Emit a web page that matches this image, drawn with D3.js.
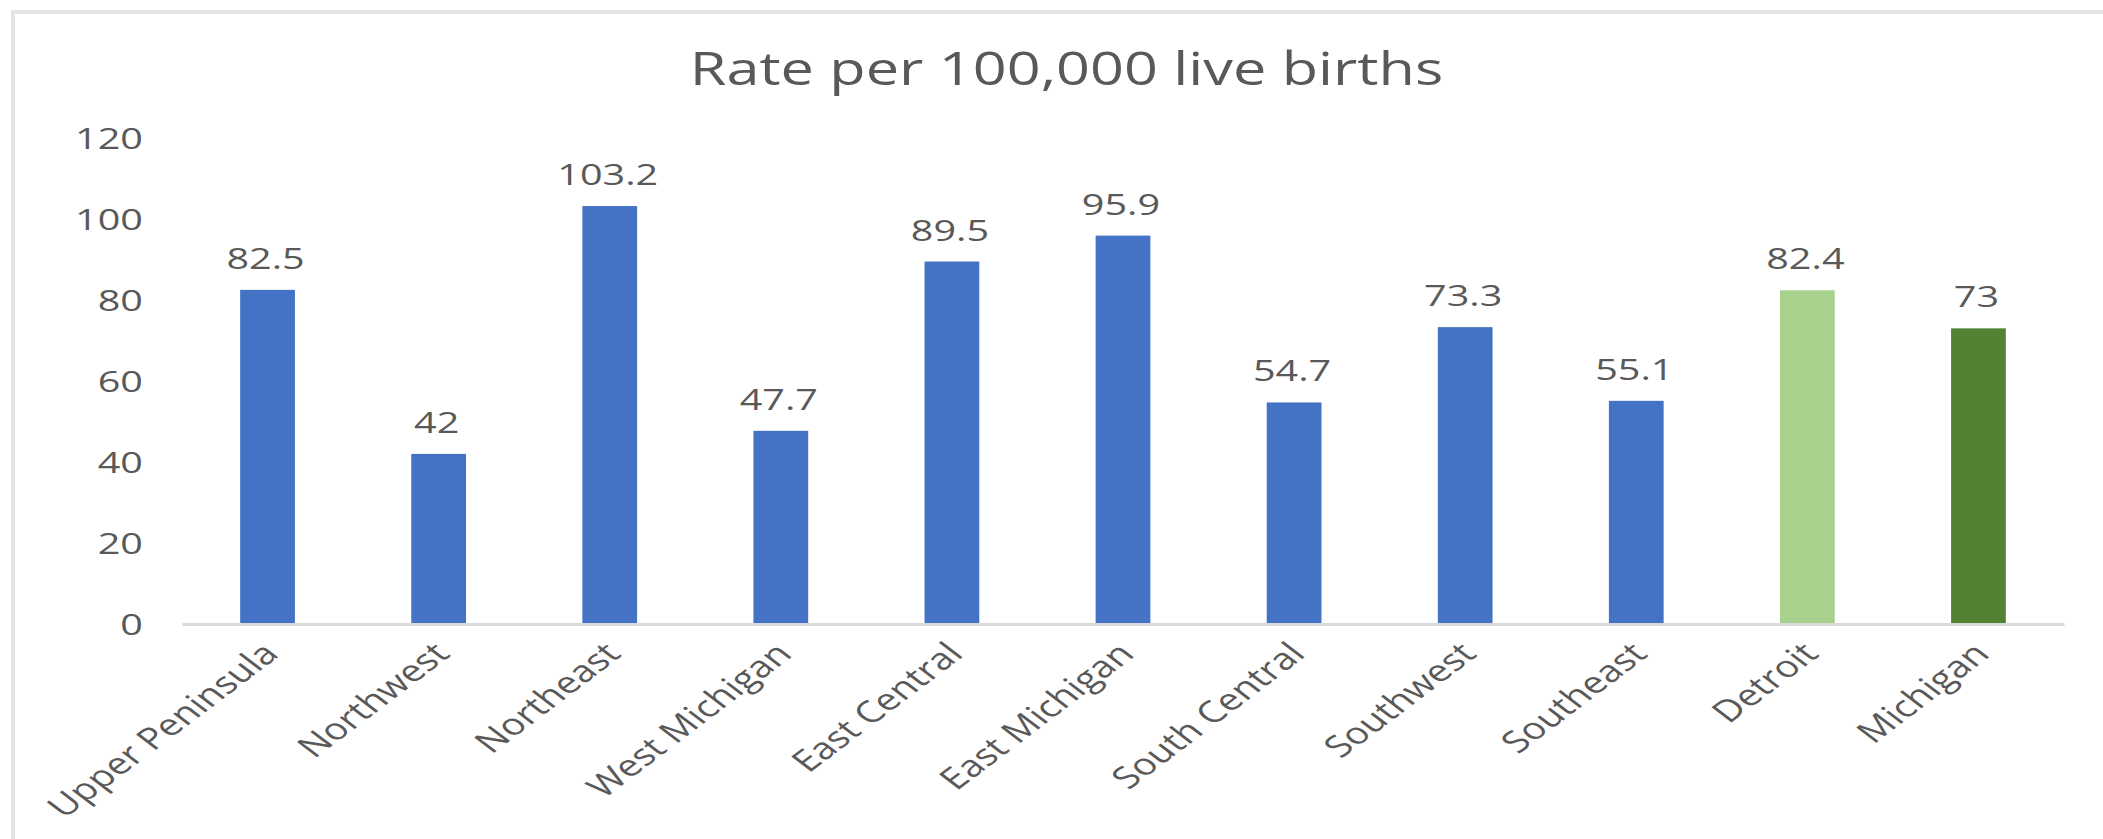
<!DOCTYPE html>
<html>
<head>
<meta charset="utf-8">
<script src="https://cdn.jsdelivr.net/npm/d3@7"></script>
<style>
  html, body { margin: 0; padding: 0; background: #ffffff; }
  svg { display: block; }
  text { font-family: "Open Sans", "Noto Sans", sans-serif; fill: #595959; }
</style>
</head>
<body>
<svg id="chart" width="2103" height="839"></svg>
<script>
// Rates per 100,000 live births by Michigan region
const categories = ["Upper Peninsula", "Northwest", "Northeast", "West Michigan", "East Central",
                    "East Michigan", "South Central", "Southwest", "Southeast", "Detroit", "Michigan"];
const values = [82.5, 42, 103.2, 47.7, 89.5, 95.9, 54.7, 73.3, 55.1, 82.4, 73];
const groups = ["region", "region", "region", "region", "region", "region", "region", "region", "region", "city", "state"];
const yTicks = [0, 20, 40, 60, 80, 100, 120];
const title = "Rate per 100,000 live births";

const W = 2103, H = 839;
const margin = { left: 182, right: W - 2064, top: 138, bottom: H - 624 };
const SX = 1.32; // horizontal text stretch

const svg = d3.select("#chart");

// chart area frame
svg.append("rect")
  .attr("x", 13).attr("y", 12)
  .attr("width", W + 50).attr("height", H + 50)
  .attr("fill", "none").attr("stroke", "#e4e4e4").attr("stroke-width", 4);

const x = d3.scaleBand()
  .domain(categories)
  .range([margin.left, W - margin.right])
  .paddingInner(0.68)
  .paddingOuter(0.34);

const y = d3.scaleLinear()
  .domain([0, 120])
  .range([H - margin.bottom, margin.top]);

const color = d3.scaleOrdinal()
  .domain(["region", "city", "state"])
  .range(["#4472C4", "#A9D18E", "#548235"]);

function stretchedText(sel, tx, ty) {
  return sel.attr("transform", (d, i) => `translate(${tx(d, i)},${ty(d, i)}) scale(${SX},1)`);
}

// title
svg.append("text")
  .attr("transform", `translate(${(685 + 1448) / 2},85) scale(${SX},1)`)
  .attr("text-anchor", "middle")
  .style("font-size", "45px")
  .text(title);

// y axis labels
const yAxis = d3.axisLeft(y).tickValues(yTicks).tickSize(0).tickPadding(0);
const yg = svg.append("g").attr("transform", `translate(143,0)`).call(yAxis);
yg.select(".domain").remove();
yg.selectAll(".tick text")
  .attr("x", 0)
  .attr("dy", "0.36em")
  .attr("text-anchor", "end")
  .style("font-size", "30px")
  .style("font-family", "'Open Sans', sans-serif")
  .attr("fill", "#595959")
  .attr("transform", `scale(${SX},1)`)
  .attr("transform-origin", "0 0");

// bars
svg.append("g").selectAll("rect")
  .data(categories)
  .join("rect")
  .attr("x", d => x(d))
  .attr("width", x.bandwidth())
  .attr("y", (d, i) => y(values[i]))
  .attr("height", (d, i) => y(0) - y(values[i]))
  .attr("fill", (d, i) => color(groups[i]));

// baseline
const xAxis = d3.axisBottom(x).tickSize(0).tickFormat("");
const xg = svg.append("g").attr("transform", `translate(0,${y(0)})`).call(xAxis);
xg.select(".domain").attr("stroke", "#d9d9d9").attr("stroke-width", 3);

// value labels
svg.append("g").selectAll("text")
  .data(categories)
  .join("text")
  .call(stretchedText, d => x(d) + x.bandwidth() / 2 - 2, (d, i) => y(values[i]) - 21)
  .attr("text-anchor", "middle")
  .style("font-size", "30px")
  .text((d, i) => values[i]);

// category labels
svg.append("g").selectAll("text")
  .data(categories)
  .join("text")
  .attr("transform", d => `translate(${x(d) + x.bandwidth() / 2 + 3},${y(0) + 24}) scale(${SX},1) rotate(-45)`)
  .attr("text-anchor", "end")
  .attr("dy", "0.35em")
  .style("font-size", "30px")
  .text(d => d);
</script>
</body>
</html>
